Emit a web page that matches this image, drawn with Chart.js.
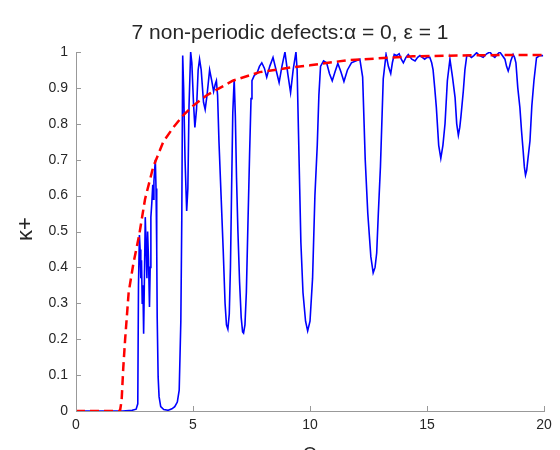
<!DOCTYPE html>
<html>
<head>
<meta charset="utf-8">
<script src="https://cdn.jsdelivr.net/npm/chart.js@4.4.0/dist/chart.umd.min.js"></script>
<style>
  body { margin: 0; background: #fff; }
</style>
</head>
<body>
<canvas id="myChart" width="560" height="450"></canvas>
<script>
/* values */
const chartTitle = '7 non-periodic defects:\u03b1 = 0, \u03b5 = 1';
const xLabel = '\u03a9';
const yLabel = '\u03ba+';
const xTicks = [0, 5, 10, 15, 20];
const yTicks = [0, 0.1, 0.2, 0.3, 0.4, 0.5, 0.6, 0.7, 0.8, 0.9, 1];

// blue: kappa+ with the 7 defects
const blueOmega = [0, 2.0, 2.4, 2.57, 2.64, 2.67, 2.71, 2.74, 2.77, 2.80, 2.83, 2.86, 2.89, 2.93, 2.96, 3.00,
  3.03, 3.06, 3.10, 3.14, 3.17, 3.20, 3.24, 3.28, 3.30, 3.33, 3.35, 3.39, 3.42, 3.45, 3.47, 3.51, 3.55, 3.62,
  3.75, 3.94, 4.10, 4.22, 4.33, 4.41, 4.48, 4.52, 4.56, 4.60, 4.66, 4.73, 4.78, 4.83, 4.90, 4.95, 5.02, 5.08,
  5.15, 5.22, 5.28, 5.35, 5.45, 5.52, 5.60, 5.71, 5.80, 5.88, 5.95, 6.00, 6.05, 6.11, 6.20, 6.29, 6.37, 6.43,
  6.49, 6.55, 6.60, 6.65, 6.70, 6.76, 6.81, 6.86, 6.92, 6.99, 7.06, 7.12, 7.16, 7.22, 7.28, 7.34, 7.42, 7.48,
  7.52, 7.62, 7.73, 7.84, 7.94, 8.05, 8.15, 8.28, 8.42, 8.55, 8.68, 8.80, 8.93, 9.05, 9.17, 9.28, 9.40, 9.45,
  9.51, 9.56, 9.61, 9.70, 9.81, 9.90, 10.0, 10.11, 10.21, 10.31, 10.38, 10.45, 10.58, 10.71, 10.83, 10.95,
  11.07, 11.19, 11.32, 11.45, 11.60, 11.77, 11.95, 12.13, 12.25, 12.36, 12.47, 12.60, 12.70, 12.78, 12.85,
  12.92, 13.01, 13.13, 13.25, 13.35, 13.45, 13.52, 13.60, 13.70, 13.81, 13.90, 13.99, 14.10, 14.20, 14.35,
  14.49, 14.60, 14.70, 14.80, 14.90, 15.00, 15.12, 15.20, 15.26, 15.33, 15.40, 15.50, 15.59, 15.68, 15.77,
  15.87, 15.98, 16.09, 16.20, 16.27, 16.34, 16.40, 16.45, 16.55, 16.62, 16.70, 16.80, 16.90, 17.00, 17.12,
  17.25, 17.40, 17.55, 17.69, 17.80, 17.90, 18.00, 18.11, 18.22, 18.33, 18.40, 18.47, 18.53, 18.58, 18.68,
  18.74, 18.80, 18.88, 18.97, 19.04, 19.11, 19.16, 19.21, 19.26, 19.31, 19.40, 19.48, 19.57, 19.68, 19.82, 19.96];
const blueKappa = [0, 0, 0.002, 0.005, 0.02, 0.35, 0.49, 0.45, 0.37, 0.42, 0.30, 0.35, 0.215, 0.40, 0.54, 0.45,
  0.37, 0.50, 0.42, 0.29, 0.40, 0.54, 0.58, 0.63, 0.59, 0.64, 0.66, 0.70, 0.62, 0.45, 0.26, 0.095, 0.04, 0.012,
  0.004, 0.002, 0.006, 0.012, 0.025, 0.058, 0.25, 0.53, 0.99, 0.90, 0.70, 0.557, 0.62, 0.85, 1.0, 0.97, 0.86, 0.79,
  0.84, 0.95, 0.98, 0.95, 0.86, 0.84, 0.88, 0.95, 0.92, 0.89, 0.91, 0.92, 0.88, 0.75, 0.60, 0.45, 0.30, 0.24,
  0.228, 0.27, 0.40, 0.62, 0.83, 0.925, 0.82, 0.65, 0.50, 0.36, 0.26, 0.22, 0.217, 0.24, 0.33, 0.50, 0.72, 0.87,
  0.92, 0.935, 0.94, 0.96, 0.97, 0.955, 0.93, 0.96, 0.985, 0.95, 0.915, 0.96, 1.0, 0.94, 0.887, 0.95, 1.0, 0.95,
  0.77, 0.62, 0.47, 0.33, 0.25, 0.223, 0.25, 0.37, 0.60, 0.74, 0.88, 0.96, 0.975, 0.97, 0.94, 0.92,
  0.945, 0.968, 0.945, 0.918, 0.95, 0.97, 0.975, 0.98, 0.93, 0.70, 0.55, 0.43, 0.385, 0.40, 0.44,
  0.55, 0.68, 0.925, 0.993, 0.96, 0.94, 0.97, 0.993, 0.99, 0.995, 0.98, 0.97, 0.985, 0.993, 0.98,
  0.975, 0.985, 0.99, 0.985, 0.98, 0.985, 0.985, 0.97, 0.95, 0.90, 0.845, 0.74, 0.704, 0.74, 0.80,
  0.92, 0.98, 0.93, 0.873, 0.80, 0.768, 0.79, 0.82, 0.89, 0.95, 0.99, 0.99, 0.985, 0.99, 0.998,
  0.99, 0.985, 0.995, 1.0, 0.99, 0.985, 0.993, 1.0, 0.99, 0.98, 0.96, 0.947, 0.96, 0.975, 0.993,
  0.985, 0.97, 0.90, 0.845, 0.78, 0.724, 0.68, 0.657, 0.67, 0.70, 0.752, 0.85, 0.92, 0.984, 0.99, 0.99];

// red dashed: reference curve
const redOmega = [0, 1.88, 1.95, 2.02, 2.1, 2.25, 2.45, 2.7, 2.95, 3.3, 3.73, 4.16, 4.6, 5.0, 5.6, 6.7, 7.85, 9.3, 10.0, 11.57, 14.4, 17.25, 20];
const redKappa = [0, 0, 0.03, 0.12, 0.2, 0.33, 0.41, 0.49, 0.59, 0.68, 0.75, 0.79, 0.825, 0.85, 0.88, 0.92, 0.944, 0.958, 0.963, 0.977, 0.988, 0.991, 0.992];

const fontFamily = '"Liberation Sans", Arial, sans-serif';
const axisColor = '#999';
const textColor = '#262626';

/* title, axis labels and inward tick marks, MATLAB style */
const decorations = {
  id: 'decorations',
  afterDraw(chart) {
    const ctx = chart.ctx;
    const area = chart.chartArea;
    const xs = chart.scales.x;
    const ys = chart.scales.y;
    ctx.save();
    ctx.strokeStyle = axisColor;
    ctx.lineWidth = 1;
    ctx.beginPath();
    xTicks.forEach(v => {
      const px = Math.round(xs.getPixelForValue(v)) + 0.5;
      ctx.moveTo(px, area.bottom);
      ctx.lineTo(px, area.bottom - 5);
    });
    yTicks.forEach(v => {
      const py = Math.round(ys.getPixelForValue(v)) + 0.5;
      ctx.moveTo(area.left, py);
      ctx.lineTo(area.left + 5, py);
    });
    ctx.stroke();

    ctx.fillStyle = textColor;
    ctx.font = '21px ' + fontFamily;
    ctx.textAlign = 'center';
    ctx.textBaseline = 'alphabetic';
    ctx.fillText(chartTitle, 290, 39);

    ctx.font = '20px ' + fontFamily;
    ctx.textBaseline = 'top';
    ctx.fillText(xLabel, (area.left + area.right) / 2, 445);

    ctx.translate(32, 229);
    ctx.rotate(-Math.PI / 2);
    ctx.font = '22px ' + fontFamily;
    ctx.textBaseline = 'alphabetic';
    ctx.fillText(yLabel, 0, 0);
    ctx.restore();
  }
};

function initChart() {
  const ctx = document.getElementById('myChart');
  new Chart(ctx, {
    type: 'line',
    data: {
      datasets: [{
        label: 'reference',
        data: redOmega.map((x, i) => ({ x: x, y: redKappa[i] })),
        borderColor: '#ff0000',
        borderWidth: 2.5,
        borderDash: [9, 5],
        pointRadius: 0,
        tension: 0,
        order: 0
      }, {
        label: 'kappa+',
        data: blueOmega.map((x, i) => ({ x: x, y: blueKappa[i] })),
        borderColor: '#0000ff',
        borderWidth: 1.6,
        pointRadius: 0,
        tension: 0,
        order: 1
      }]
    },
    options: {
      responsive: false,
      animation: false,
      layout: { padding: { left: 0, right: 16, top: 52, bottom: 0 } },
      plugins: {
        legend: { display: false },
        title: { display: false },
        tooltip: { enabled: false }
      },
      scales: {
        x: {
          type: 'linear',
          min: 0,
          max: 20,
          afterBuildTicks: s => { s.ticks = xTicks.map(v => ({ value: v })); },
          afterFit: s => { s.height = 39; },
          grid: { display: false, drawTicks: false, drawOnChartArea: false },
          border: { display: true, color: axisColor, width: 1 },
          ticks: {
            autoSkip: false,
            maxRotation: 0,
            padding: 6,
            color: textColor,
            font: { family: fontFamily, size: 14 },
            callback: v => String(v)
          }
        },
        y: {
          type: 'linear',
          min: 0,
          max: 1,
          afterBuildTicks: s => { s.ticks = yTicks.map(v => ({ value: v })); },
          afterFit: s => { s.width = 76; },
          grid: { display: false, drawTicks: false, drawOnChartArea: false },
          border: { display: true, color: axisColor, width: 1 },
          ticks: {
            autoSkip: false,
            padding: 8,
            color: textColor,
            font: { family: fontFamily, size: 14 },
            callback: v => String(v)
          }
        }
      }
    },
    plugins: [decorations]
  });
}

initChart();
</script>
</body>
</html>
